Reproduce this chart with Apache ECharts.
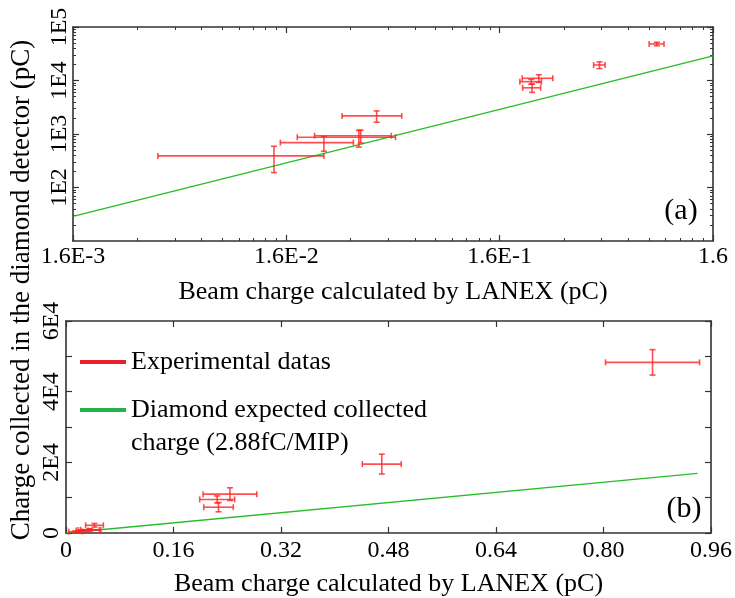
<!DOCTYPE html>
<html>
<head>
<meta charset="utf-8">
<script src="https://cdn.jsdelivr.net/npm/echarts@6/dist/echarts.min.js"></script>
<style>
html,body{margin:0;padding:0;background:#fff;}
#chart{width:735px;height:598px;}
</style>
</head>
<body>
<div id="chart"></div>
<script>
// ---- data ----
const beamCharge    = [0.014, 0.024, 0.035, 0.0357, 0.0424, 0.227, 0.225, 0.244, 0.47, 0.873];   // pC (LANEX)
const beamChargeErr = [0.010, 0.009, 0.017, 0.014, 0.0132, 0.022, 0.026, 0.040, 0.029, 0.070];
const diamondCharge = [390, 690, 870, 930, 2180, 7300, 9500, 11000, 19500, 48300];              // pC (diamond)
const diamondErr    = [200, 215, 300, 250, 520, 1300, 1000, 1800, 2800, 3600];

// expected line (2.88 fC / MIP), endpoints
const expLogX = [0.0016, 1.6];
const expLogY = [28.8, 28800];
const expLinX = [0, 0.94];
const expLinY = [0, 16900];

// tick labels
const topXTicks = [0.0016, 0.016, 0.16, 1.6];
const topYTicks = [100, 1000, 10000, 100000];
const botXTicks = [0, 0.16, 0.32, 0.48, 0.64, 0.80, 0.96];
const botYTicks = [0, 20000, 40000, 60000];

const legendNames = ['Experimental datas', 'Diamond expected collected\ncharge (2.88fC/MIP)'];
const xTitle = 'Beam charge calculated by LANEX (pC)';
const yTitle = 'Charge collected in the diamond detector (pC)';

// ---- helpers ----
function minorLog(lo, hi) {
  const out = [];
  for (let d = lo; d < hi * 0.9999; d *= 10) {
    for (let k = 2; k <= 9; k++) out.push(+(d * k).toPrecision(6));
  }
  return out;
}
const topXMinor = minorLog(0.0016, 1.6);
const topYMinor = minorLog(10, 100000);

const FONT = 'Liberation Serif';
const AX = '#333';
const RED = 'rgba(255,35,35,0.8)';
const GREEN = '#27bd27';

function fmtTopX(v) {
  const e = Math.round(Math.log10(v / 1.6));
  return e === 0 ? '1.6' : '1.6E' + e;
}
function fmtTopY(v) { return '1E' + Math.round(Math.log10(v)); }
function fmtBotX(v) { return Math.abs(v) < 1e-9 ? '0' : v.toFixed(2); }
function fmtBotY(v) {
  if (Math.abs(v) < 1e-6) return '0';
  return Math.round(v / 10000) + 'E4';
}

const errData = beamCharge.map((v, i) => [v, diamondCharge[i], beamChargeErr[i], diamondErr[i]]);

function renderErr(params, api) {
  const x = api.value(0), y = api.value(1), ex = api.value(2), ey = api.value(3);
  const l = api.coord([x - ex, y]), r = api.coord([x + ex, y]);
  const t = api.coord([x, y + ey]), b = api.coord([x, y - ey]);
  const c = 3;
  const st = { stroke: RED, lineWidth: 1.6 };
  return {
    type: 'group',
    children: [
      { type: 'line', shape: { x1: l[0], y1: l[1], x2: r[0], y2: r[1] }, style: st },
      { type: 'line', shape: { x1: l[0], y1: l[1] - c, x2: l[0], y2: l[1] + c }, style: st },
      { type: 'line', shape: { x1: r[0], y1: r[1] - c, x2: r[0], y2: r[1] + c }, style: st },
      { type: 'line', shape: { x1: t[0], y1: t[1], x2: b[0], y2: b[1] }, style: st },
      { type: 'line', shape: { x1: t[0] - c, y1: t[1], x2: t[0] + c, y2: t[1] }, style: st },
      { type: 'line', shape: { x1: b[0] - c, y1: b[1], x2: b[0] + c, y2: b[1] }, style: st }
    ]
  };
}

const lineCommon = { show: true, onZero: false, lineStyle: { color: AX, width: 1.6 } };
const noLine = { show: false, onZero: false };
const lbl = { fontFamily: FONT, fontSize: 24, color: '#000' };

function logAxis(gi, pos, min, max, opts) {
  return Object.assign({
    type: 'log', gridIndex: gi, position: pos, min: min, max: max, logBase: 10,
    axisLine: lineCommon, splitLine: { show: false },
    axisLabel: { show: false },
    axisTick: { show: false }
  }, opts);
}
function valAxis(gi, pos, min, max, interval, opts) {
  return Object.assign({
    type: 'value', gridIndex: gi, position: pos, min: min, max: max, interval: interval,
    axisLine: lineCommon, splitLine: { show: false },
    axisLabel: { show: false },
    axisTick: { show: true, inside: true, length: 6, lineStyle: { color: AX, width: 1.2 } }
  }, opts);
}
const majTick = (vals) => ({ show: true, inside: true, length: 6, customValues: vals, lineStyle: { color: AX, width: 1.2 } });
const minTick = (vals) => ({ show: true, inside: true, length: 3, customValues: vals, lineStyle: { color: AX, width: 1 } });

const chart = echarts.init(document.getElementById('chart'), null, { renderer: 'canvas' });

const option = {
  animation: false,
  backgroundColor: '#fff',
  grid: [
    { left: 73, right: 22, top: 27, height: 214 },
    { left: 66, right: 22, top: 321, height: 214 }
  ],
  xAxis: [
    logAxis(0, 'bottom', 0.0016, 1.6, {
      axisTick: majTick(topXTicks),
      axisLabel: Object.assign({ show: true, customValues: topXTicks, formatter: fmtTopX, margin: 4 }, lbl),
      name: xTitle, nameLocation: 'middle', nameGap: 38,
      nameTextStyle: { fontFamily: FONT, fontSize: 26, color: '#000' }
    }),
    logAxis(0, 'bottom', 0.0016, 1.6, { axisLine: noLine, axisTick: minTick(topXMinor) }),
    logAxis(0, 'top', 0.0016, 1.6, { axisTick: majTick(topXTicks) }),
    logAxis(0, 'top', 0.0016, 1.6, { axisLine: noLine, axisTick: minTick(topXMinor) }),
    valAxis(1, 'bottom', 0, 0.96, 0.16, {
      axisLabel: Object.assign({ show: true, formatter: fmtBotX, margin: 6 }, lbl),
      name: xTitle, nameLocation: 'middle', nameGap: 38,
      nameTextStyle: { fontFamily: FONT, fontSize: 26, color: '#000' }
    }),
    valAxis(1, 'top', 0, 0.96, 0.16, {})
  ],
  yAxis: [
    logAxis(0, 'left', 10, 100000, {
      axisTick: majTick(topYTicks),
      axisLabel: Object.assign({ show: true, customValues: topYTicks, formatter: fmtTopY, rotate: 90, margin: 1 }, lbl)
    }),
    logAxis(0, 'left', 10, 100000, { axisLine: noLine, axisTick: minTick(topYMinor) }),
    logAxis(0, 'right', 10, 100000, { axisTick: majTick(topYTicks) }),
    logAxis(0, 'right', 10, 100000, { axisLine: noLine, axisTick: minTick(topYMinor) }),
    valAxis(1, 'left', 0, 60000, 10000, {
      axisLabel: Object.assign({ show: true, customValues: botYTicks, formatter: fmtBotY, rotate: 90, margin: 2 }, lbl)
    }),
    valAxis(1, 'right', 0, 60000, 10000, {})
  ],
  series: [
    {
      type: 'line', xAxisIndex: 0, yAxisIndex: 0, symbol: 'none', silent: true,
      data: expLogX.map((v, i) => [v, expLogY[i]]),
      lineStyle: { color: GREEN, width: 1.3 }, z: 2
    },
    {
      type: 'custom', xAxisIndex: 0, yAxisIndex: 0, renderItem: renderErr,
      data: errData, encode: { x: 0, y: 1 }, z: 3
    },
    {
      type: 'line', xAxisIndex: 4, yAxisIndex: 4, symbol: 'none', silent: true,
      data: expLinX.map((v, i) => [v, expLinY[i]]),
      lineStyle: { color: GREEN, width: 1.3 }, z: 2
    },
    {
      type: 'custom', xAxisIndex: 4, yAxisIndex: 4, renderItem: renderErr,
      data: errData, encode: { x: 0, y: 1 }, z: 3
    }
  ],
  graphic: [
    {
      type: 'text', x: 22, y: 290, rotation: Math.PI / 2,
      style: { text: yTitle, fontFamily: FONT, fontSize: 27, fill: '#000', align: 'center', verticalAlign: 'middle' }
    },
    { type: 'text', x: 681, y: 211, style: { text: '(a)', fontFamily: FONT, fontSize: 30, fill: '#000', align: 'center', verticalAlign: 'middle' } },
    { type: 'text', x: 684, y: 509, style: { text: '(b)', fontFamily: FONT, fontSize: 30, fill: '#000', align: 'center', verticalAlign: 'middle' } },
    { type: 'line', shape: { x1: 80, y1: 362, x2: 126, y2: 362 }, style: { stroke: '#e8202c', lineWidth: 4 } },
    { type: 'text', x: 131, y: 362, style: { text: legendNames[0], fontFamily: FONT, fontSize: 26, fill: '#000', align: 'left', verticalAlign: 'middle' } },
    { type: 'line', shape: { x1: 80, y1: 410, x2: 126, y2: 410 }, style: { stroke: '#22b24a', lineWidth: 4 } },
    { type: 'text', x: 131, y: 394, style: { text: legendNames[1], fontFamily: FONT, fontSize: 26, lineHeight: 33, fill: '#000', align: 'left', verticalAlign: 'top' } }
  ]
};
chart.setOption(option);
</script>
</body>
</html>
